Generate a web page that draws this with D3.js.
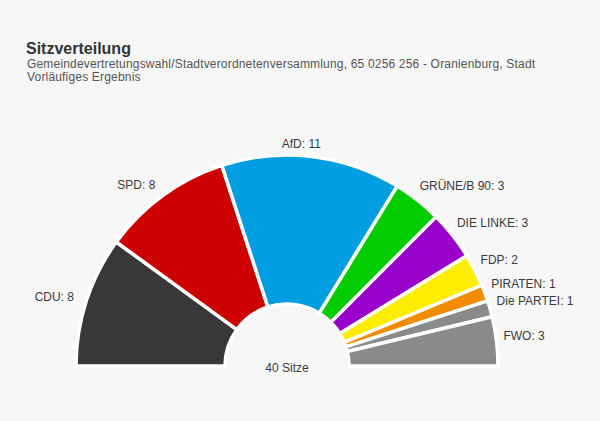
<!DOCTYPE html>
<html><head><meta charset="utf-8">
<script src="https://cdn.jsdelivr.net/npm/d3@7/dist/d3.min.js"></script>
<style>body{margin:0;background:#f7f7f7;}svg{display:block;font-family:"Liberation Sans",Arial,sans-serif;}</style>
</head><body><svg id="c" width="600" height="421"></svg>
<script>
const parties = ["CDU","SPD","AfD","GRÜNE/B 90","DIE LINKE","FDP","PIRATEN","Die PARTEI","FWO"];
const seats = [8,8,11,3,3,2,1,1,3];
const colors = ["#383838","#cc0000","#009ee0","#00cc00","#9900cc","#ffed00","#f28c00","#8a8a8a","#8a8a8a"];
const title = "Sitzverteilung";
const subtitle1 = "Gemeindevertretungswahl/Stadtverordnetenversammlung, 65 0256 256 - Oranienburg, Stadt";
const subtitle2 = "Vorläufiges Ergebnis";
const total = d3.sum(seats);
const centerText = total + " Sitze";

const svg = d3.select("#c");
svg.append("rect").attr("width",600).attr("height",421).attr("fill","#f7f7f7");
svg.append("text").attr("x",26).attr("y",54).attr("font-size",16).attr("font-weight","bold").attr("fill","#333").text(title);
svg.append("text").attr("x",27).attr("y",68).attr("font-size",12).attr("letter-spacing",0.18).attr("fill","#555").text(subtitle1);
svg.append("text").attr("x",27).attr("y",81).attr("font-size",12).attr("letter-spacing",0.18).attr("fill","#555").text(subtitle2);

const cx = 287, cy = 366, rOuter = 211, rInner = 62, rLabel = 224;
const data = parties.map((p,i)=>({name:p, value:seats[i], color:colors[i]}));
const pie = d3.pie().value(d=>d.value).sort(null).startAngle(-Math.PI/2).endAngle(Math.PI/2);
const arcs = pie(data);
const arc = d3.arc().innerRadius(rInner).outerRadius(rOuter);
const g = svg.append("g").attr("transform",`translate(${cx},${cy})`);
g.selectAll("path").data(arcs).join("path")
  .attr("d",arc).attr("fill",d=>d.data.color)
  .attr("stroke","#ffffff").attr("stroke-width",3.5).attr("stroke-linejoin","round");

g.selectAll("text.lbl").data(arcs).join("text").attr("class","lbl")
  .each(function(d){
    const a = (d.startAngle+d.endAngle)/2;
    let x = rLabel*Math.sin(a), y = -rLabel*Math.cos(a);
    let anchor = "middle";
    if (a < -0.2) anchor = "end";
    else if (a > 0.2) { anchor = "start"; x -= 6; y -= 4; }
    else { x -= 12; }
    d3.select(this).attr("x",x).attr("y",y+4).attr("text-anchor",anchor);
  })
  .attr("font-size",12).attr("fill","#3a3a3a")
  .text(d=>d.data.name+": "+d.data.value);

g.append("text").attr("x",0).attr("y",6).attr("text-anchor","middle").attr("font-size",12).attr("fill","#3a3a3a").text(centerText);
</script></body></html>
